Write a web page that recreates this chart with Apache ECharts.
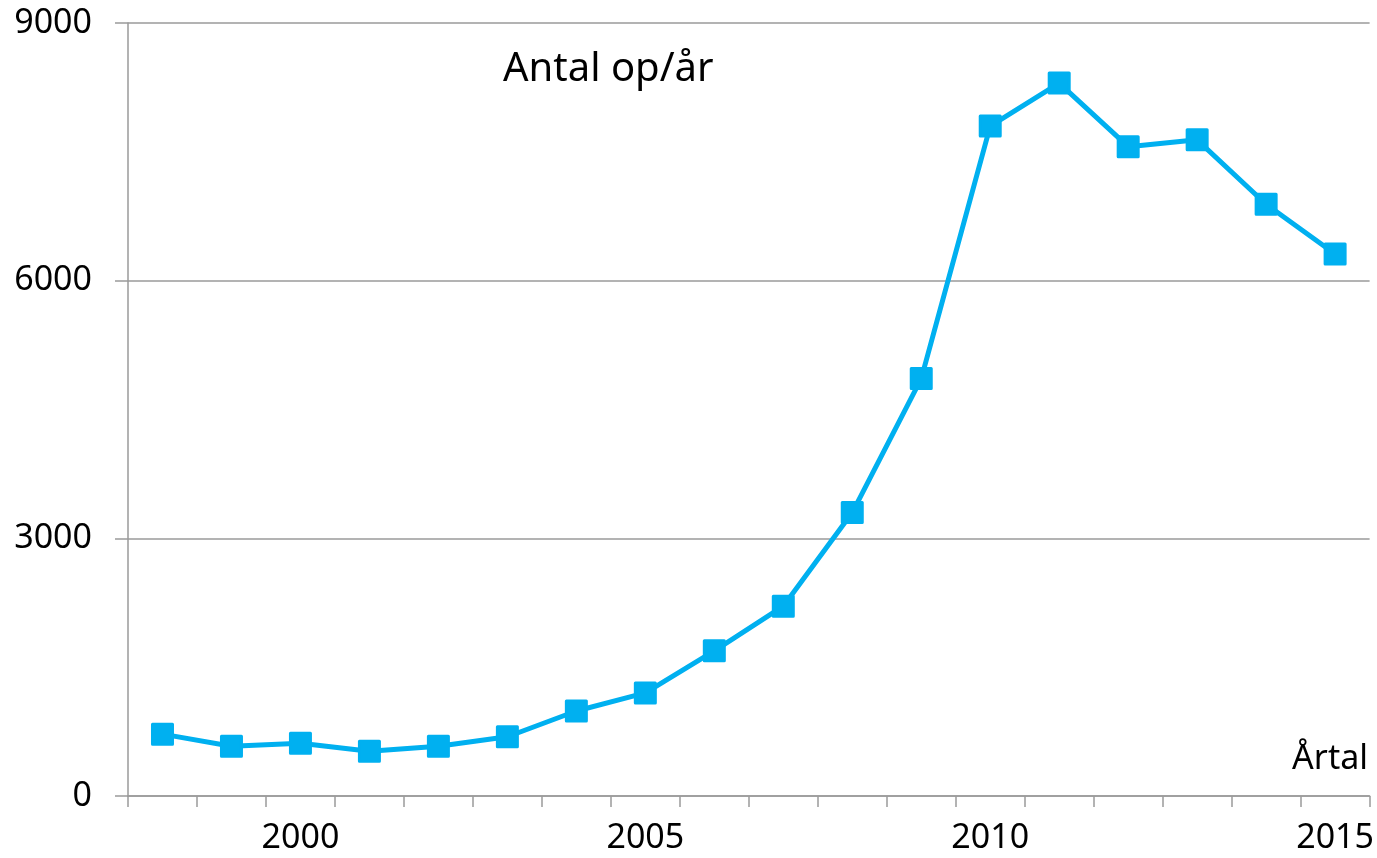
<!DOCTYPE html>
<html>
<head>
<meta charset="utf-8">
<title>Antal op/år</title>
<script src="https://cdn.jsdelivr.net/npm/echarts@6/dist/echarts.min.js"></script>
<style>
    html, body { margin: 0; padding: 0; background: #fff; }
    #main { width: 1377px; height: 858px; }
</style>
</head>
<body>
<div id="main"></div>
<script>
// 年份 (类目)
var years = ['1998', '1999', '2000', '2001', '2002', '2003', '2004', '2005', '2006',
    '2007', '2008', '2009', '2010', '2011', '2012', '2013', '2014', '2015'];
// 每年数量
var opsPerYear = [720, 580, 615, 520, 580, 690, 990, 1200, 1690,
    2210, 3300, 4860, 7800, 8300, 7560, 7640, 6890, 6310];
// 显示标签的年份
var labelYears = ['2000', '2005', '2010', '2015'];
var yTicks = [0, 3000, 6000, 9000];

var OpsChart = function() {
    var t = {
        font : '"Noto Sans", "DejaVu Sans", sans-serif',
        lineColor : '#00B0F0',
        axisColor : '#9a9a9a',
        init : function(el) {
            t.chart = echarts.init(el);
            t.render();
        },
        render : function() {
            var option = {
                animation : false,
                grid : {
                    left : 128,
                    right : 7,
                    top : 23,
                    bottom : 62
                },
                graphic : [ {
                    type : 'text',
                    x : 503,
                    y : 70,
                    style : {
                        text : 'Antal op/år',
                        font : '40px ' + t.font,
                        fill : '#000',
                        textAlign : 'left',
                        textVerticalAlign : 'middle'
                    }
                }, {
                    type : 'text',
                    x : 1368,
                    y : 759,
                    style : {
                        text : 'Årtal',
                        font : '34px ' + t.font,
                        fill : '#000',
                        textAlign : 'right',
                        textVerticalAlign : 'middle'
                    }
                } ],
                xAxis : {
                    type : 'category',
                    data : years,
                    boundaryGap : true,
                    axisLine : {
                        lineStyle : { color : t.axisColor, width : 1.5 }
                    },
                    axisTick : {
                        show : true,
                        interval : 0,
                        length : 11,
                        lineStyle : { color : t.axisColor, width : 1.5 }
                    },
                    axisLabel : {
                        interval : function(index, value) {
                            return labelYears.indexOf(value) >= 0;
                        },
                        margin : 25,
                        color : '#000',
                        fontSize : 34,
                        fontFamily : t.font
                    },
                    splitLine : { show : false }
                },
                yAxis : {
                    type : 'value',
                    min : yTicks[0],
                    max : yTicks[yTicks.length - 1],
                    interval : yTicks[1] - yTicks[0],
                    axisLine : {
                        show : true,
                        lineStyle : { color : t.axisColor, width : 1.5 }
                    },
                    axisTick : {
                        show : true,
                        length : 13,
                        lineStyle : { color : t.axisColor, width : 1.5 }
                    },
                    axisLabel : {
                        margin : 36,
                        color : '#000',
                        fontSize : 34,
                        fontFamily : t.font,
                        formatter : function(value) {
                            return String(value);
                        }
                    },
                    splitLine : {
                        lineStyle : { color : t.axisColor, width : 1.5 }
                    }
                },
                series : [ {
                    name : 'Antal op/år',
                    type : 'line',
                    data : opsPerYear,
                    symbol : 'rect',
                    symbolSize : 20,
                    lineStyle : { color : t.lineColor, width : 5 },
                    itemStyle : {
                        color : t.lineColor,
                        borderColor : t.lineColor,
                        borderWidth : 3,
                        borderJoin : 'round'
                    }
                } ]
            };
            t.chart.setOption(option);
        }
    };
    return t;
}();

OpsChart.init(document.getElementById('main'));
</script>
</body>
</html>
